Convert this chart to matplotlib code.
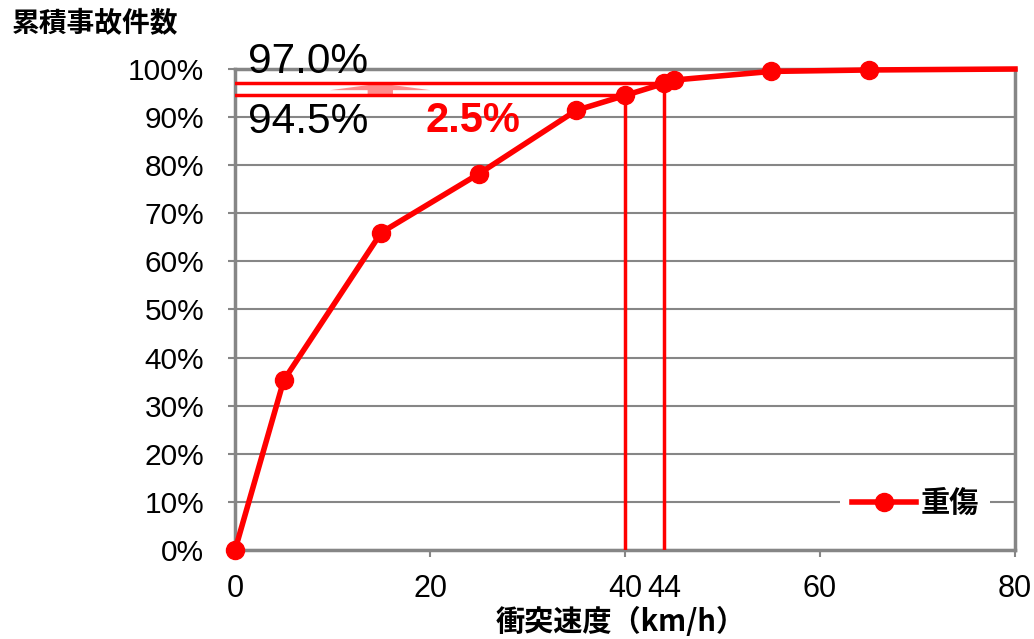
import matplotlib
matplotlib.use('Agg')
import matplotlib.pyplot as plt
from matplotlib.patches import FancyArrow

plt.rcParams['font.family'] = ['Liberation Sans', 'Noto Sans CJK JP', 'DejaVu Sans']
jp = ['Noto Sans CJK JP', 'DejaVu Sans']

# cumulative accident share vs impact speed
speed = [0, 5, 15, 25, 35, 40, 44, 45, 55, 65, 80]
cum_pct = [0, 35.3, 66.0, 78.2, 91.4, 94.5, 97.0, 97.7, 99.5, 99.8, 100.0]
marker_idx = list(range(10))  # last point (80) has no marker

ref_speed = [40, 44]
ref_pct = [94.5, 97.0]
diff_pct = 2.5

xticks = [0, 20, 40, 44, 60, 80]
yticks = list(range(0, 101, 10))

red = '#ff0000'
gray = '#868686'

fig = plt.figure(figsize=(10.34, 6.39), dpi=100)
ax = fig.add_axes([0.2273, 0.1393, 0.7543, 0.7527])

ax.set_xlim(0, 80)
ax.set_ylim(0, 100)
ax.yaxis.grid(True, color=gray, linewidth=1.5)
ax.set_axisbelow(True)
for s in ax.spines.values():
    s.set_color(gray)
    s.set_linewidth(2.5)

ax.set_xticks(xticks)
ax.set_xticklabels([str(v) for v in xticks])
ax.set_yticks(yticks)
ax.set_yticklabels(['%d%%' % v for v in yticks])
ax.tick_params(axis='both', colors=gray, labelcolor='black',
               length=5, width=1.5, direction='out')
ax.tick_params(axis='x', labelsize=22, pad=12)
ax.tick_params(axis='y', labelsize=21.5, pad=17)
# hide the tick mark of 44 (label only)
ax.xaxis.get_major_ticks()[3].tick1line.set_visible(False)

# reference lines
ax.plot([0, ref_speed[1]], [ref_pct[1], ref_pct[1]], color=red, lw=2.5, zorder=3)
ax.plot([0, ref_speed[0]], [ref_pct[0], ref_pct[0]], color=red, lw=2.5, zorder=3)
ax.plot([ref_speed[0], ref_speed[0]], [0, ref_pct[0]], color=red, lw=2.5, zorder=3)
ax.plot([ref_speed[1], ref_speed[1]], [0, ref_pct[1]], color=red, lw=2.5, zorder=3)

ax.add_patch(FancyArrow(14.9, ref_pct[0], 0, diff_pct, width=2.6, head_width=10.3,
                        head_length=1.4, length_includes_head=True,
                        color='#ff8a8a', lw=0, zorder=2))

# main curve
ax.plot(speed, cum_pct, color=red, lw=4, marker='o', markersize=13,
        markevery=marker_idx, clip_on=False, zorder=5, label='重傷')

ax.text(1.3, 101.5, '%.1f%%' % ref_pct[1], fontsize=30.5, va='center', ha='left', clip_on=False)
ax.text(1.3, 89.0, '%.1f%%' % ref_pct[0], fontsize=30.5, va='center', ha='left')
ax.text(19.5, 89.2, '%.1f%%' % diff_pct, fontsize=30, va='center', ha='left',
        color=red, fontweight='bold')

leg = ax.legend(loc='center', bbox_to_anchor=(0.872, 0.098), frameon=True,
                handlelength=2.2, borderpad=0.4, handletextpad=0.15,
                prop={'family': jp, 'weight': 'bold', 'size': 21})
leg.get_frame().set_edgecolor('none')
leg.get_frame().set_facecolor('white')
leg.get_frame().set_alpha(1)

fig.text(0.0116, 0.963, '累積事故件数', family=jp, fontweight='bold', fontsize=20,
         va='center', ha='left')
fig.text(0.6006, 0.027, '衝突速度（km/h）', family=jp, fontweight='bold', fontsize=21,
         va='center', ha='center')

fig.savefig('out.png', dpi=100)
